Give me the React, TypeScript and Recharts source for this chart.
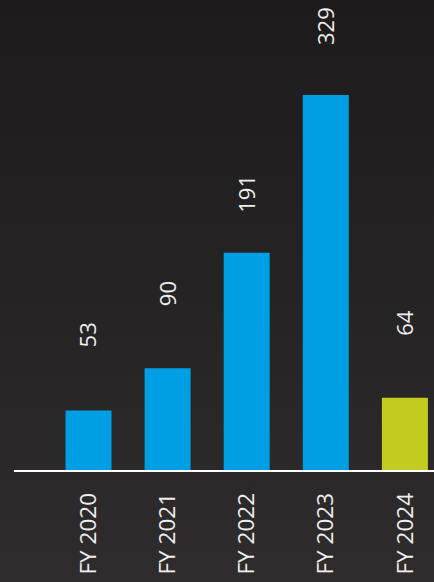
import { BarChart, Bar, XAxis, YAxis, Cell, LabelList } from "recharts";

const years = ["FY 2020", "FY 2021", "FY 2022", "FY 2023", "FY 2024"];
const values = [53, 90, 191, 329, 64];
const highlight = [false, false, false, false, true];

// per-bar spacing between bar top and its value label
const labelGaps = [63, 62, 40, 50, 62];

const data = years.map((year, i) => ({ year, value: values[i], highlight: highlight[i] }));

const FONT = "'Open Sans', 'Liberation Sans', sans-serif";

function YearTick(props: any) {
  const { x, payload } = props;
  return (
    <g transform={`translate(${x},493)`}>
      <text
        transform="rotate(-90)"
        textAnchor="end"
        dy="0.36em"
        fill="#eeeeee"
        fontSize={22.5}
        fontFamily={FONT}
      >
        {payload.value}
      </text>
    </g>
  );
}

function ValueLabel(props: any) {
  const { x, y, width, value, index } = props;
  const cx = x + width / 2;
  const cy = y - labelGaps[index];
  return (
    <g transform={`translate(${cx},${cy})`}>
      <text
        transform="rotate(-90)"
        textAnchor="start"
        dy="0.36em"
        fill="#eeeeee"
        fontSize={22}
        fontFamily={FONT}
      >
        {value}
      </text>
    </g>
  );
}

export default function App() {
  return (
    <div
      style={{
        position: "fixed",
        top: 0,
        left: 0,
        width: 434,
        height: 582,
        overflow: "hidden",
        background: "linear-gradient(180deg, #1d1b1c 0%, #262324 50%, #302c2d 100%)",
      }}
    >
      <BarChart
        width={444}
        height={582}
        data={data}
        margin={{ top: 95, right: 0, bottom: 0, left: 14 }}
      >
        <XAxis
          dataKey="year"
          height={111}
          padding={{ left: 34.5, right: 0 }}
          axisLine={{ stroke: "#ffffff", strokeWidth: 2 }}
          tickLine={false}
          interval={0}
          tick={<YearTick />}
        />
        <YAxis hide domain={[0, "dataMax"]} />
        <Bar dataKey="value" barSize={46} isAnimationActive={false}>
          {data.map((d) => (
            <Cell key={d.year} fill={d.highlight ? "#c2cc20" : "#009fe3"} />
          ))}
          <LabelList dataKey="value" content={<ValueLabel />} />
        </Bar>
      </BarChart>
    </div>
  );
}
